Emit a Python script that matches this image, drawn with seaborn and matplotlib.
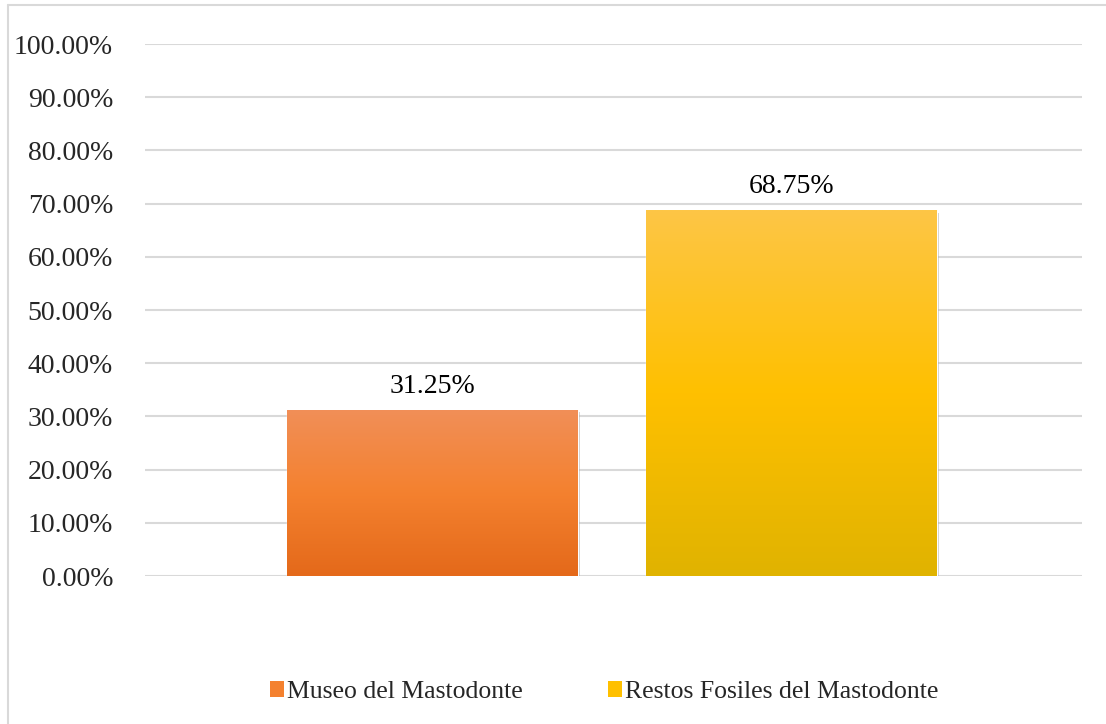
import numpy as np
import pandas as pd
import matplotlib
matplotlib.use("Agg")
import matplotlib.pyplot as plt
import matplotlib.transforms as mtransforms
from matplotlib.patches import Patch, Rectangle
from matplotlib.lines import Line2D
from matplotlib.colors import LinearSegmentedColormap
import seaborn as sns

# ---------------------------
# datos
# ---------------------------
series = ["Museo del Mastodonte", "Restos Fosiles del Mastodonte"]
valores = [31.25, 68.75]
ticks_y = [0, 10, 20, 30, 40, 50, 60, 70, 80, 90, 100]

# degradados (arriba, medio, abajo) estilo Excel
grad_colores = [
    ["#F18F58", "#F4812F", "#E4691A"],
    ["#FDC646", "#FFC000", "#E0B300"],
]
colores_medios = [c[1] for c in grad_colores]

df = pd.DataFrame({"serie": series, "valor": valores})

sns.set_style("white")
plt.rcParams["font.family"] = ["Liberation Serif", "DejaVu Serif"]

fig = plt.figure(figsize=(11.06, 7.24), dpi=100)
ax = fig.add_axes([145 / 1106, 1 - 576 / 724, (1082 - 145) / 1106, (576 - 44) / 724])

sns.barplot(data=df, x="serie", y="valor", hue="serie", palette=colores_medios,
            width=0.81, legend=False, ax=ax, zorder=3)

# relleno en degradado + sombra suave
for patch, cols in zip(ax.patches, grad_colores):
    x0, y0 = patch.get_x(), patch.get_y()
    w, h = patch.get_width(), patch.get_height()
    cmap = LinearSegmentedColormap.from_list("g", cols[::-1])
    grad = np.linspace(0, 1, 256).reshape(-1, 1)
    im = ax.imshow(grad, extent=[x0, x0 + w, y0, y0 + h], origin="lower",
                   aspect="auto", cmap=cmap, zorder=3.5)
    im.set_clip_path(patch)
    sombra = Rectangle((x0, y0), w, h, facecolor="#808080", edgecolor="none", alpha=0.4,
                       transform=ax.transData + mtransforms.ScaledTranslation(2 / 100, -2.5 / 100, fig.dpi_scale_trans),
                       zorder=2.5)
    ax.add_patch(sombra)
    ax.annotate(f"{patch.get_height():.2f}%", (x0 + w / 2, y0 + h), xytext=(0, 8),
                textcoords="offset points", ha="center", va="bottom", fontsize=20, color="#000000")

ax.set_xlim(-0.801, 1.809)
ax.set_ylim(0, 100)
ax.set_yticks(ticks_y)
ax.set_yticklabels([f"{t:.2f}%" for t in ticks_y], fontsize=20)
ax.tick_params(axis="y", length=0, pad=23)
ax.set_xticks([])
ax.set_xlabel("")
ax.set_ylabel("")
ax.grid(axis="y", color="#D9D9D9", linewidth=1.5, zorder=0)
ax.set_axisbelow(True)
for s in ax.spines.values():
    s.set_visible(False)

# leyenda inferior
handles = [Patch(facecolor=c, edgecolor="none") for c in colores_medios]
fig.legend(handles, series, loc="center", bbox_to_anchor=(604 / 1106, 1 - 692 / 724),
           ncol=2, frameon=False, fontsize=18.5, handlelength=0.55, handleheight=0.55,
           handletextpad=0.12, columnspacing=3.3)

# borde del área del gráfico
fig.add_artist(Line2D([8 / 1106, 1], [1 - 5 / 724, 1 - 5 / 724], color="#D9D9D9", linewidth=1.5,
                      transform=fig.transFigure))
fig.add_artist(Line2D([8 / 1106, 8 / 1106], [0, 1 - 5 / 724], color="#D9D9D9", linewidth=1.5,
                      transform=fig.transFigure))

plt.savefig("out.png", dpi=100)
plt.close()
